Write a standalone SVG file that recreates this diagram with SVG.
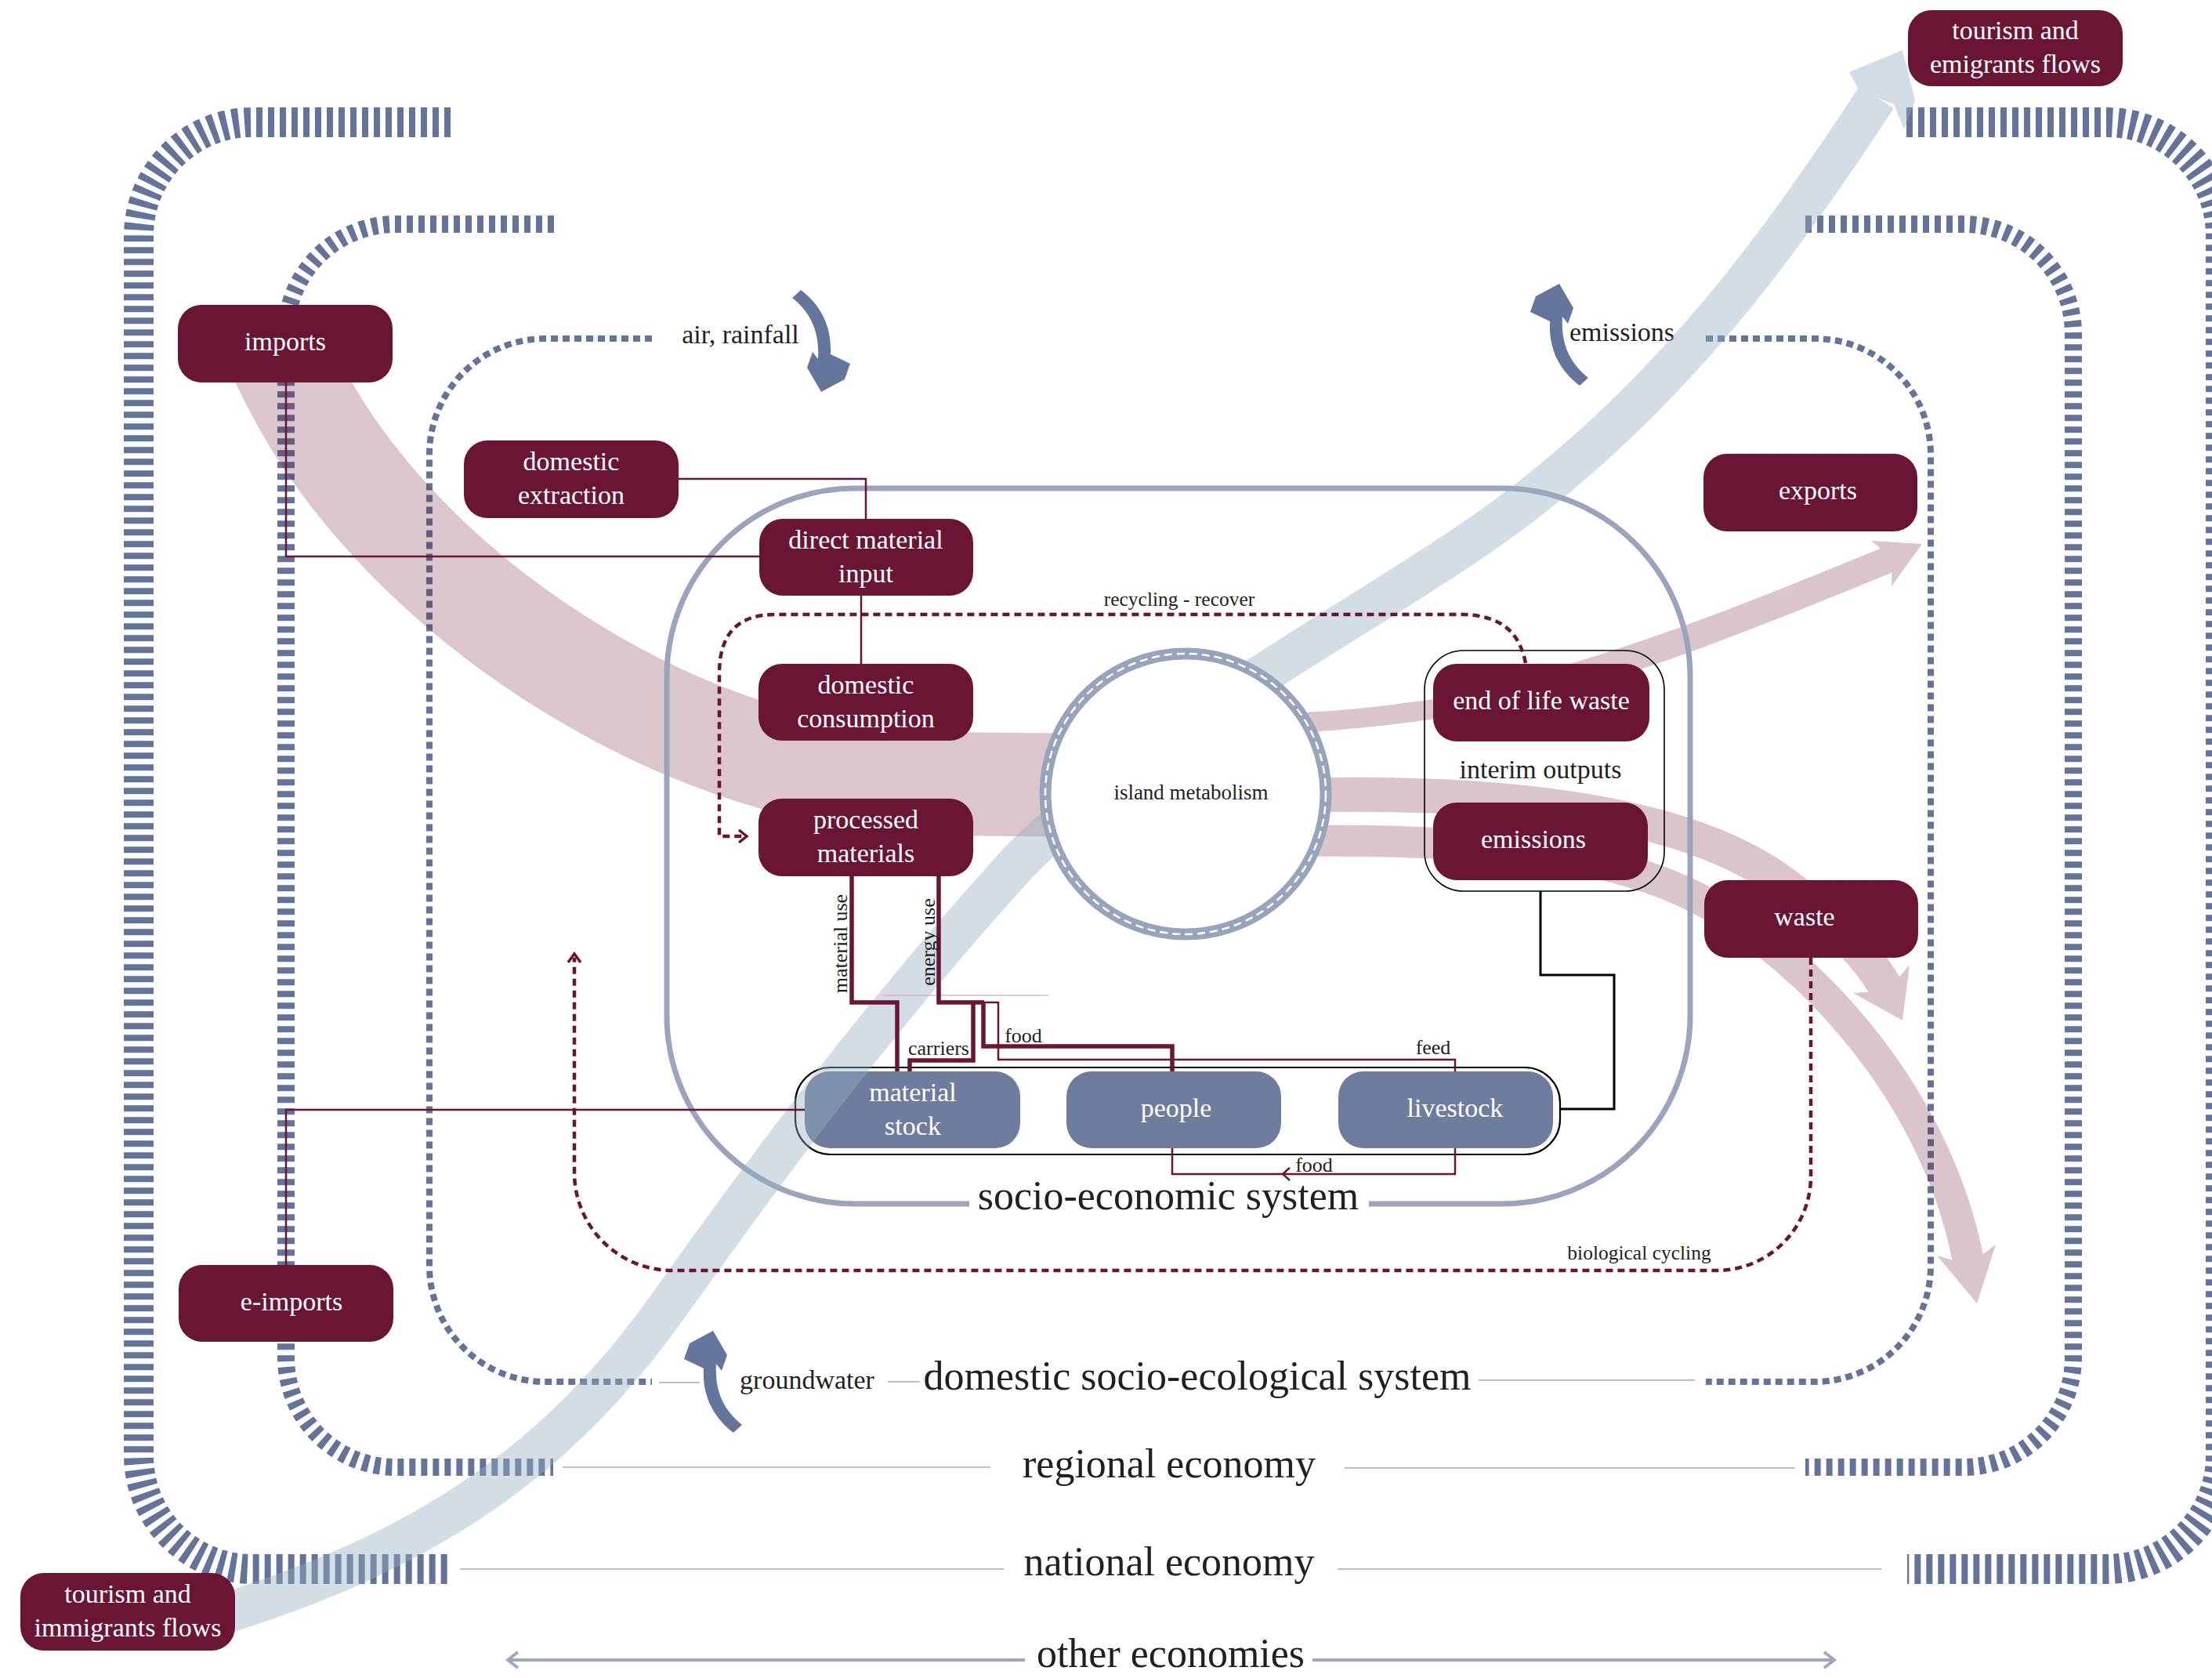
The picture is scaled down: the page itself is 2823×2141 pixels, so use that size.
<svg xmlns="http://www.w3.org/2000/svg" width="2823" height="2141" viewBox="0 0 2823 2141">
<defs>
<style>
.frame{fill:none;stroke:#63739a}
.f1{stroke-width:38;stroke-dasharray:8 7}
.f2{stroke-width:22;stroke-dasharray:8 7}
.f3{stroke-width:8;stroke-dasharray:9 6}
.rule{fill:none;stroke:#b7c0d2;stroke-width:2}
.rule2{fill:none;stroke:#9ca8c0;stroke-width:4}
.node rect{fill:#6b1535}
.stock rect{fill:#6e7d9d}
.nt{font-family:"Liberation Serif",serif;font-size:34px;fill:#fff;text-anchor:middle}
.lb{font-family:"Liberation Serif",serif;fill:#231f20;text-anchor:middle}
.big{font-size:52px}
.mid{font-size:34px}
.sm{font-size:26px}
.link{fill:none;stroke:#6b1535;stroke-width:2.5}
.thick{stroke-width:5.5}
.dash{fill:none;stroke:#6b1535;stroke-width:4.5;stroke-dasharray:9 6}
.chev{fill:none;stroke:#6b1535;stroke-width:3.5}
.blk{fill:none;stroke:#000;stroke-width:3}
</style>
<!-- curved arrow, tip at origin pointing up -->
<path id="carrow" d="M0,0 L18,31 L11,51 L4,42 C2,75 12,100 37,120 L26,130 C2,112 -14,85 -12,48 L-37,36 L-30,16 Z" fill="#64769b"/>
</defs>
<rect width="2823" height="2141" fill="#fff"/>

<!-- system boundaries -->
<g id="boundaries">
<path class="frame f1" d="M575,156 H322 A145,145 0 0 0 177,301 V1857 A145,145 0 0 0 322,2002 H574"/>
<path class="frame f1" d="M2433,156 H2689 A145,145 0 0 1 2834,301 V1857 A145,145 0 0 1 2689,2002 H2434"/>
<path class="frame f2" d="M707,286 H505 A140,140 0 0 0 365,426 V1732 A140,140 0 0 0 505,1872 H706"/>
<path class="frame f2" d="M2304,286 H2506 A140,140 0 0 1 2646,426 V1732 A140,140 0 0 1 2506,1872 H2304"/>
<path class="frame f3" d="M832,432 H696 A148,148 0 0 0 548,580 V1615 A148,148 0 0 0 696,1763 H832"/>
<path class="frame f3" d="M2177,432 H2316 A148,148 0 0 1 2464,580 V1615 A148,148 0 0 1 2316,1763 H2177"/>
<path class="rule" d="M841,1764 H893 M1133,1763 H1174 M1887,1761 H2163"/>
<path class="rule" d="M718,1872 H1264 M1716,1873 H2291"/>
<path class="rule" d="M587,2002 H1281 M1707,2002 H2401"/>
<path class="rule2" d="M648,2118 H1308 M1675,2118 H2341"/>
<path class="rule2" d="M661,2108 L648,2118 L661,2128 M2328,2108 L2341,2118 L2328,2128"/>
</g>

<!-- scale labels -->
<g id="scale-labels">
<text class="lb big" x="1528" y="1773">domestic socio-ecological system</text>
<text class="lb big" x="1492" y="1885">regional economy</text>
<text class="lb big" x="1492" y="2010">national economy</text>
<text class="lb big" x="1494" y="2127">other economies</text>
<text class="lb mid" x="1030" y="1772">groundwater</text>
<text class="lb mid" x="945" y="438">air, rainfall</text>
<text class="lb mid" x="2070" y="435">emissions</text>
</g>

<!-- environmental exchanges -->
<g id="env-arrows">
<use href="#carrow" transform="translate(1048,500) rotate(180)"/>
<use href="#carrow" transform="translate(1990,362)"/>
<use href="#carrow" transform="translate(910,1698)"/>
</g>

<!-- material flows -->
<g id="material-flows" opacity="0.245">
<path d="M343,426 L373,486 C514,766 886,1000 1200,1000 L1420,1002" fill="none" stroke="#6b1535" stroke-width="132"/>
<path d="M1650,922 C1720,920 1780,912 1900,895" fill="none" stroke="#6b1535" stroke-width="25"/>
<path d="M1950,880 C2100,840 2250,780 2415,712" fill="none" stroke="#6b1535" stroke-width="34"/>
<polygon points="2453,694 2388,690 2415,712 2414,748" fill="#6b1535"/>
<path d="M1650,1015 C1900,1008 2150,1030 2280,1130 C2340,1175 2385,1220 2409,1264" fill="none" stroke="#6b1535" stroke-width="44"/>
<polygon points="2428,1302 2365,1267 2409,1264 2437,1231" fill="#6b1535"/>
<path d="M1650,1073 C1900,1070 2080,1088 2200,1165 C2350,1260 2480,1430 2513,1614" fill="none" stroke="#6b1535" stroke-width="40"/>
<polygon points="2523,1663 2472,1602 2513,1614 2547,1588" fill="#6b1535"/>
</g>

<!-- socio-economic system boundary -->
<g id="socio-economic-system">
<path d="M1237,1536 H1091 A240,240 0 0 1 851,1296 V863 A240,240 0 0 1 1091,623 H1917 A240,240 0 0 1 2157,863 V1296 A240,240 0 0 1 1917,1536 H1747" fill="none" stroke="#9aa5bd" stroke-width="7"/>
<text class="lb big" x="1491" y="1543">socio-economic system</text>
</g>

<!-- stocks -->
<g id="stocks">
<rect x="1015" y="1362" width="976" height="111" rx="45" fill="none" stroke="#000" stroke-width="2.2"/>
<g id="material-stock" class="stock"><rect x="1027" y="1367" width="275" height="98" rx="32"/><text class="nt" x="1165" y="1405">material</text><text class="nt" x="1165" y="1448">stock</text></g>
<g id="people" class="stock"><rect x="1361" y="1367" width="274" height="98" rx="32"/><text class="nt" x="1501" y="1425">people</text></g>
<g id="livestock" class="stock"><rect x="1708" y="1367" width="274" height="98" rx="32"/><text class="nt" x="1857" y="1425">livestock</text></g>
</g>

<!-- people flows -->
<g id="people-flows" opacity="0.42">
<path d="M250,2070 C520,1990 700,1880 850,1670 C950,1530 1100,1320 1300,1100 C1500,900 1800,760 1960,630 C2150,480 2280,300 2395,124" fill="none" stroke="#94aebf" stroke-width="52"/>
<polygon points="2360,92 2428,64 2444,128 2430,165 2417,133 2373,116" fill="#94aebf"/>
</g>

<!-- island metabolism -->
<g id="island-metabolism">
<circle cx="1513" cy="1013" r="179" fill="#fff" stroke="#98a3bc" stroke-width="15"/>
<circle cx="1513" cy="1013" r="179" fill="none" stroke="#fff" stroke-width="2.5" stroke-dasharray="10 6"/>
<text class="lb" font-size="27" x="1520" y="1020">island metabolism</text>
</g>

<!-- interim outputs container -->
<g id="interim-outputs">
<rect x="1818" y="830" width="306" height="307" rx="50" fill="none" stroke="#000" stroke-width="1.6"/>
<text class="lb mid" x="1966" y="993">interim outputs</text>
</g>

<!-- connectors -->
<g id="connectors">
<path class="link" d="M365,488 V710 H969"/>
<path class="link" d="M365,1614 V1416 H1027"/>
<path class="link" d="M866,611 H1105 V662"/>
<path class="link" d="M1099,759 V847"/>
<path d="M1126,1270 H1338" fill="none" stroke="#d9b8c6" stroke-width="1.5"/>
<path class="link thick" d="M1087,1118 V1279 H1145 V1367"/>
<path class="link thick" d="M1198,1118 V1279 H1256"/>
<path class="link thick" d="M1242,1279 V1353 H1161 V1367"/>
<path class="link thick" d="M1255,1279 V1335 H1496 V1367"/>
<path class="link" d="M1256,1279 H1274 V1352 H1857 V1367"/>
<path class="link" d="M1857,1465 V1498 H1496 V1465"/>
<path class="link" d="M1646,1490 L1637,1498 L1646,1506"/>
<path class="blk" d="M1966,1137 V1244 H2060 V1415 H1991"/>
<path class="dash" d="M1947,846 C1940,812 1922,786 1868,784 H990 C940,784 918,810 918,860 V1067 H950"/>
<path class="chev" d="M943,1059 L953,1067 L943,1075"/>
<path class="dash" d="M2311,1222 V1501 A120,120 0 0 1 2191,1621 H858 A125,125 0 0 1 733,1496 V1222"/>
<path class="chev" d="M725,1228 L733,1217 L741,1228"/>
<text class="lb sm" x="1081" y="1204" transform="rotate(-90 1081 1204)">material use</text>
<text class="lb sm" x="1193" y="1202" transform="rotate(-90 1193 1202)">energy use</text>
<text class="lb sm" x="1198" y="1346">carriers</text>
<text class="lb sm" x="1306" y="1330">food</text>
<text class="lb sm" x="1829" y="1345">feed</text>
<text class="lb sm" x="1677" y="1495">food</text>
<text class="lb" font-size="25.5" x="1505" y="773">recycling - recover</text>
<text class="lb" font-size="25.5" x="2092" y="1607">biological cycling</text>
</g>

<!-- nodes -->
<g id="imports" class="node"><rect x="227" y="389" width="274" height="99" rx="30"/><text class="nt" x="364" y="447">imports</text></g>
<g id="domestic-extraction" class="node"><rect x="592" y="562" width="274" height="99" rx="30"/><text class="nt" x="729" y="600">domestic</text><text class="nt" x="729" y="643">extraction</text></g>
<g id="direct-material-input" class="node"><rect x="969" y="662" width="273" height="98" rx="30"/><text class="nt" x="1105" y="700">direct material</text><text class="nt" x="1105" y="743">input</text></g>
<g id="domestic-consumption" class="node"><rect x="968" y="847" width="274" height="98" rx="30"/><text class="nt" x="1105" y="885">domestic</text><text class="nt" x="1105" y="928">consumption</text></g>
<g id="processed-materials" class="node"><rect x="968" y="1019" width="274" height="99" rx="30"/><text class="nt" x="1105" y="1057">processed</text><text class="nt" x="1105" y="1100">materials</text></g>
<g id="end-of-life-waste" class="node"><rect x="1829" y="847" width="276" height="99" rx="30"/><text class="nt" x="1967" y="905">end of life waste</text></g>
<g id="emissions" class="node"><rect x="1829" y="1024" width="274" height="99" rx="30"/><text class="nt" x="1957" y="1082">emissions</text></g>
<g id="exports" class="node"><rect x="2174" y="579" width="273" height="99" rx="30"/><text class="nt" x="2320" y="637">exports</text></g>
<g id="waste" class="node"><rect x="2175" y="1123" width="273" height="99" rx="30"/><text class="nt" x="2303" y="1181">waste</text></g>
<g id="e-imports" class="node"><rect x="228" y="1614" width="274" height="98" rx="30"/><text class="nt" x="372" y="1672">e-imports</text></g>
<g id="tourism-immigrants" class="node"><rect x="26" y="2007" width="274" height="99" rx="30"/><text class="nt" x="163" y="2045">tourism and</text><text class="nt" x="163" y="2088">immigrants flows</text></g>
<g id="tourism-emigrants" class="node"><rect x="2435" y="13" width="274" height="97" rx="30"/><text class="nt" x="2572" y="50">tourism and</text><text class="nt" x="2572" y="93">emigrants flows</text></g>
</svg>
